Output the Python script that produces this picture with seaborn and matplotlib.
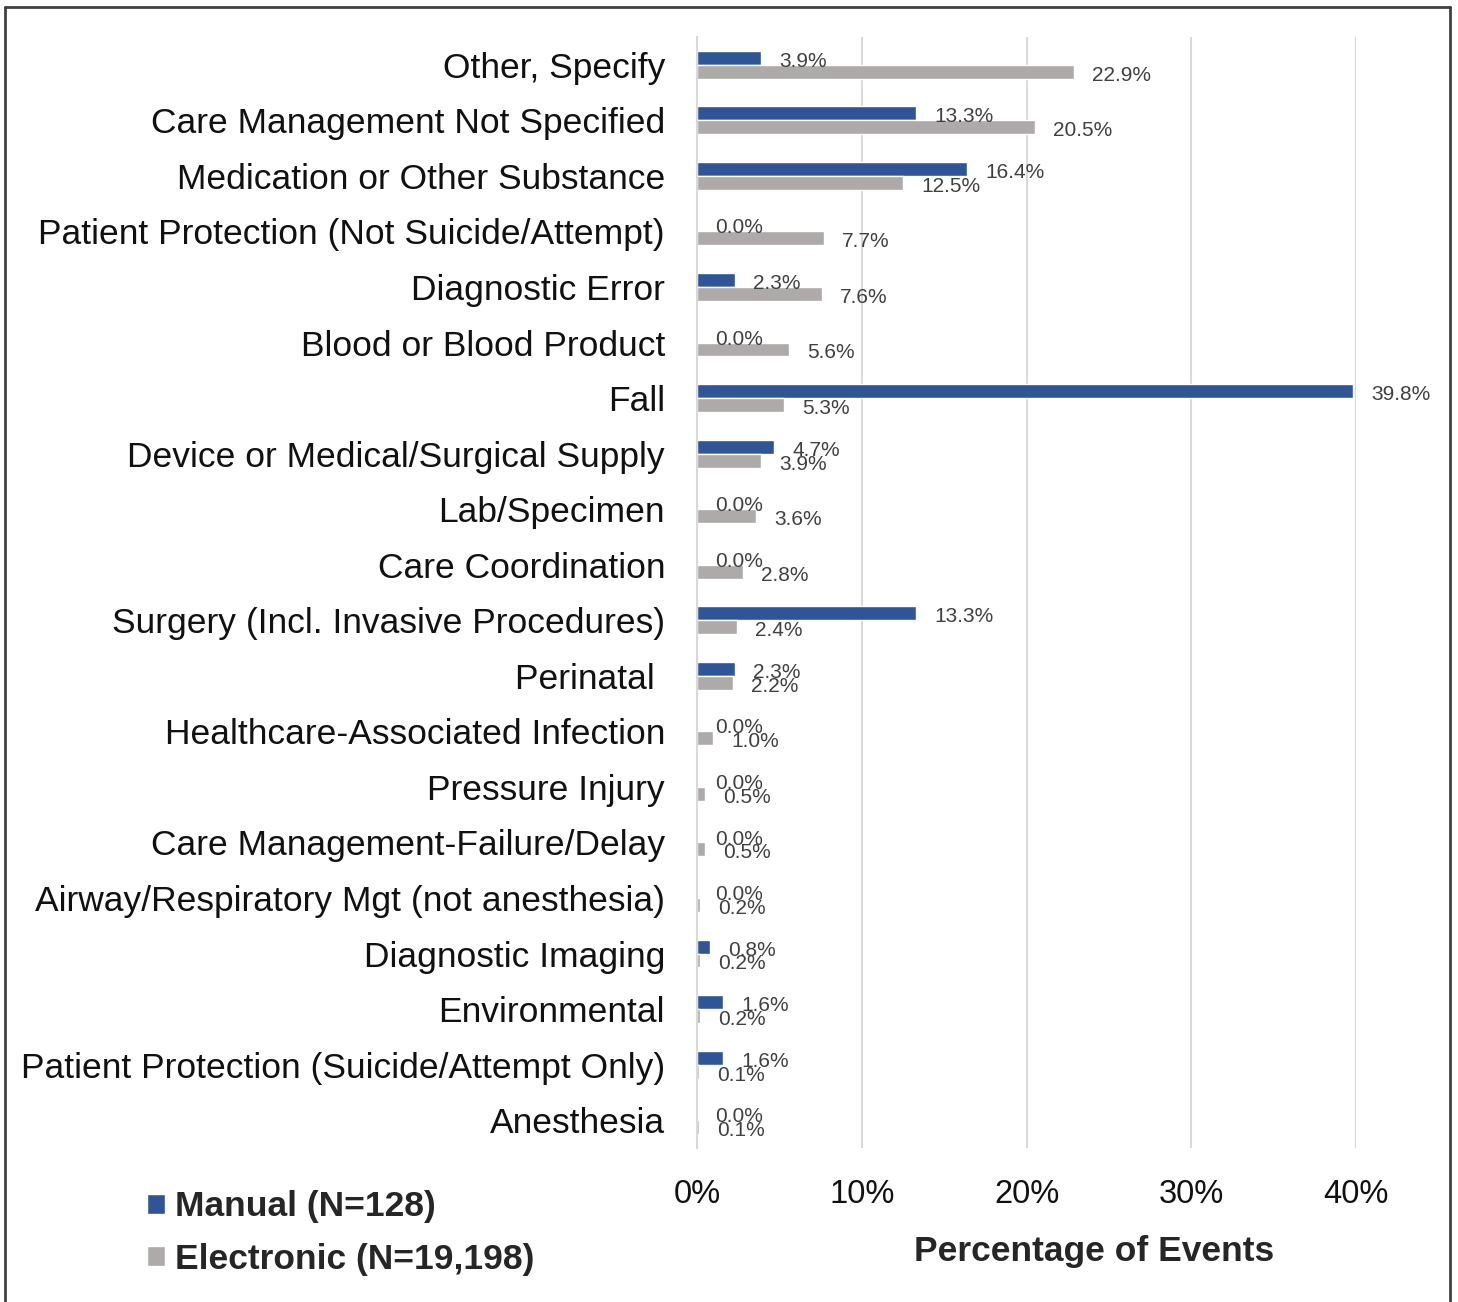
import pandas as pd
import matplotlib.pyplot as plt
import seaborn as sns
from matplotlib.lines import Line2D
from matplotlib.ticker import PercentFormatter

# --- datos ---
categorias = [
    'Other, Specify',
    'Care Management Not Specified',
    'Medication or Other Substance',
    'Patient Protection (Not Suicide/Attempt)',
    'Diagnostic Error',
    'Blood or Blood Product',
    'Fall',
    'Device or Medical/Surgical Supply',
    'Lab/Specimen',
    'Care Coordination',
    'Surgery (Incl. Invasive Procedures)',
    'Perinatal ',
    'Healthcare-Associated Infection',
    'Pressure Injury',
    'Care Management-Failure/Delay',
    'Airway/Respiratory Mgt (not anesthesia)',
    'Diagnostic Imaging',
    'Environmental',
    'Patient Protection (Suicide/Attempt Only)',
    'Anesthesia',
]
manual = [3.9, 13.3, 16.4, 0.0, 2.3, 0.0, 39.8, 4.7, 0.0, 0.0,
          13.3, 2.3, 0.0, 0.0, 0.0, 0.0, 0.8, 1.6, 1.6, 0.0]
electronico = [22.9, 20.5, 12.5, 7.7, 7.6, 5.6, 5.3, 3.9, 3.6, 2.8,
               2.4, 2.2, 1.0, 0.5, 0.5, 0.2, 0.2, 0.2, 0.1, 0.1]
series = ['Manual (N=128)', 'Electronic (N=19,198)']
xticks = [0, 10, 20, 30, 40]

df = pd.DataFrame({
    'categoria': categorias * 2,
    'valor': manual + electronico,
    'serie': [series[0]] * len(categorias) + [series[1]] * len(categorias),
})

sns.set_style('white')
plt.rcParams['font.family'] = ['Liberation Sans', 'DejaVu Sans']

fig = plt.figure(figsize=(14.58, 13.02), dpi=100)
ax = fig.add_axes([697 / 1458, 1 - 1148 / 1302, 659 / 1458, 1111 / 1302])

sns.barplot(data=df, y='categoria', x='valor', hue='serie', orient='h',
            palette=['#2F5597', '#AEAAAA'], width=0.5, saturation=1,
            ax=ax)

# etiquetas de valor, un poco por debajo del centro de la barra
for cont in ax.containers:
    anns = ax.bar_label(cont, fmt='%.1f%%', padding=13, fontsize=15,
                        color='#404040', clip_on=False)
    for a in anns:
        a.xyann = (13, -2.5)

ax.set_xlim(0, 40)
ax.set_xticks(xticks)
ax.xaxis.set_major_formatter(PercentFormatter(decimals=0))
ax.grid(axis='x', color='#D9D9D9', linewidth=1.5)
ax.set_axisbelow(True)
for s in ['top', 'right', 'bottom']:
    ax.spines[s].set_visible(False)
ax.spines['left'].set_color('#D9D9D9')
ax.spines['left'].set_linewidth(1.5)

ax.tick_params(axis='y', length=0, pad=23, labelsize=25.5, labelcolor='#111111')
ax.tick_params(axis='x', length=0, pad=22, labelsize=23.5, labelcolor='#111111')
ax.set_ylabel('')
ax.set_xlabel('Percentage of Events', fontsize=25.5, fontweight='bold')
ax.xaxis.set_label_coords((1094 - 697) / 659, -(1252 - 1148) / 1111)
ax.xaxis.label.set_va('center')

sns.move_legend(ax, loc='center left', bbox_to_anchor=(115 / 1458, 1 - 1233 / 1302),
                bbox_transform=fig.transFigure, frameon=False, title=None,
                handlelength=0.5, handleheight=0.5, handletextpad=0.3,
                labelspacing=0.55, prop={'size': 25.5, 'weight': 'bold'})

# marco de la figura
for xs, ys in [((5, 5), (1302, 7)), ((5, 1450), (7, 7)), ((1450, 1450), (7, 1302))]:
    fig.add_artist(Line2D([x / 1458 for x in xs], [1 - y / 1302 for y in ys],
                          color='#404040', linewidth=2, transform=fig.transFigure))

fig.savefig('out.png', dpi=100)
